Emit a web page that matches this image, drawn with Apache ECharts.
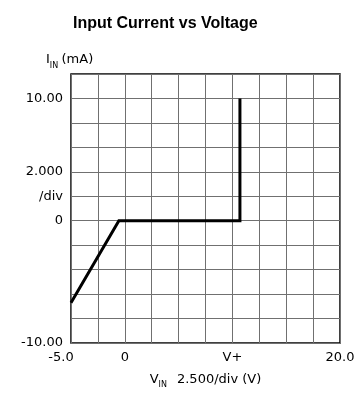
<!DOCTYPE html>
<html lang="en">
<head>
    <meta charset="UTF-8">
    <title>Input Current vs Voltage</title>
    <script type="text/javascript" src="https://cdn.jsdelivr.net/npm/echarts@6/dist/echarts.min.js"></script>
    <style>
        body { margin: 0; background: #fff; }
    </style>
</head>
<body>
    <div id="main" style="width: 360px; height: 403px;"></div>
    <script type="text/javascript">
        // curve: input voltage (V) vs input current (mA)
        var vIn = [-5, -0.55, 10.7, 10.7];
        var iIn = [-6.7, 0, 0, 10];

        // tick labels shown on the axes
        var xTickValues = [-5, 0, 10, 20];
        var xTickText = ['-5.0', '0', 'V+', '20.0'];
        var yTickValues = [10, 4, 2, 0, -10];
        var yTickText = ['10.00', '2.000', '/div', '0', '-10.00'];

        var tickFont = 'DejaVu Sans';

        function pick(values, texts, v) {
            for (var i = 0; i < values.length; i++) {
                if (Math.abs(values[i] - v) < 1e-6) return texts[i];
            }
            return '';
        }

        var nameRich = {
            b: { fontFamily: tickFont, fontSize: 13, color: '#000', verticalAlign: 'bottom', lineHeight: 17 },
            s: { fontFamily: tickFont, fontSize: 8, color: '#000', verticalAlign: 'bottom', lineHeight: 12, padding: [0, 0, -3, 0] }
        };

        var myChart = echarts.init(document.getElementById('main'));

        myChart.setOption({
            animation: false,
            backgroundColor: '#fff',
            title: {
                text: 'Input Current vs Voltage',
                left: 68,
                top: 11,
                textStyle: {
                    fontFamily: 'Liberation Sans',
                    fontWeight: 'bold',
                    fontSize: 16,
                    color: '#000'
                }
            },
            graphic: [{
                type: 'text',
                left: 46,
                top: 52,
                style: {
                    text: '{b|I}{s|IN} {b|(mA)}',
                    rich: nameRich
                }
            }],
            grid: {
                left: 71,
                right: 20,
                top: 74,
                bottom: 60,
                show: true,
                borderColor: '#000',
                borderWidth: 1.5
            },
            xAxis: {
                type: 'value',
                min: -5,
                max: 20,
                interval: 2.5,
                name: '{b|V}{s|IN}   {b|2.500/div (V)}',
                nameLocation: 'middle',
                nameGap: 26,
                nameTextStyle: { rich: nameRich },
                axisLine: { show: false },
                axisTick: { show: false },
                splitLine: { show: true, lineStyle: { color: '#707070', width: 1 } },
                axisLabel: {
                    showMinLabel: true,
                    showMaxLabel: true,
                    margin: 8,
                    fontFamily: tickFont,
                    fontSize: 13,
                    color: '#000',
                    formatter: function (v) {
                        var s = pick(xTickValues, xTickText, v);
                        if (v === -5) return '{f|' + s + '}';
                        return s;
                    },
                    rich: {
                        f: { fontFamily: tickFont, fontSize: 13, color: '#000', padding: [0, 20, 0, 0] }
                    }
                }
            },
            yAxis: {
                type: 'value',
                min: -10,
                max: 12,
                interval: 2,
                axisLine: { show: false },
                axisTick: {
                    show: true,
                    length: 3,
                    lineStyle: { color: '#707070' }
                },
                splitLine: { show: true, lineStyle: { color: '#707070', width: 1 } },
                axisLabel: {
                    showMinLabel: true,
                    showMaxLabel: true,
                    margin: 8,
                    fontFamily: tickFont,
                    fontSize: 13,
                    color: '#000',
                    formatter: function (v) {
                        return pick(yTickValues, yTickText, v);
                    }
                }
            },
            series: [{
                type: 'line',
                data: vIn.map(function (x, k) { return [x, iIn[k]]; }),
                symbol: 'none',
                lineStyle: { color: '#000', width: 3, join: 'miter' }
            }]
        });
    </script>
</body>
</html>
